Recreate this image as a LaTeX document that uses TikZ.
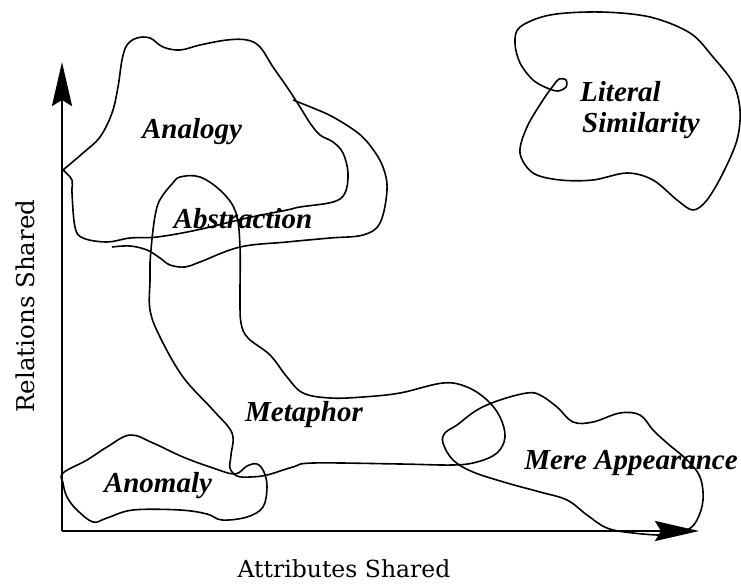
\documentclass[tikz,border=0pt]{standalone}
\usepackage{fontspec}
\setmainfont{Liberation Serif}
\newfontfamily\axfont{DejaVu Serif}
\usetikzlibrary{arrows.meta}
\tikzset{
  lab/.style={font=\bfseries\itshape\fontsize{29}{31}\selectfont, inner sep=0pt},
  axlab/.style={font=\axfont\fontsize{23.5}{26}\selectfont, inner sep=0pt},
  blob/.style={line width=1.6pt, line join=round},
  axis/.style={line width=2.8pt, -{Stealth[length=44pt,width=20pt,inset=6pt]}}
}
\begin{document}
\begin{tikzpicture}[x=1pt,y=-1pt]
\useasboundingbox (0,0) rectangle (741,585);
% axes
\coordinate (O) at (62,531);
\coordinate (ytip) at (62,62);
\coordinate (xtip) at (699,531);
\draw[axis] (O) -- (ytip);
\draw[axis] (O) -- (xtip);
\node[axlab, rotate=90, font=\axfont\fontsize{24.5}{26}\selectfont] (ylab) at (25,306) {Relations Shared};
\node[axlab] (xlab) at (344,569) {Attributes Shared};
% Analogy
\draw[blob] plot[smooth, tension=0.6] coordinates {
 (63,170) (83,153) (100,137) (112,113) (118,87) (122,60) (127,45) (137,38)
 (150,38) (163,47) (180,50) (200,45) (227,40) (247,40) (260,47) (273,67)
 (287,87) (300,107) (310,123) (320,135) (333,142) (343,153) (348,173)
 (345,193) (333,202) (300,207) (287,210) (247,218) (197,230) (157,237)
 (130,238) (107,242) (83,238) (75,227) (72,193) (72,180) (63,170)};
% Abstraction
\draw[blob] plot[smooth, tension=0.6] coordinates {
 (112,247) (130,246) (147,250) (160,258) (170,265) (185,267) (200,262)
 (240,247) (287,242) (330,238) (363,235) (380,223) (387,190) (383,167)
 (372,148) (358,133) (333,117) (313,108) (293,100)};
% Metaphor
\draw[blob] plot[smooth cycle, tension=0.6] coordinates {
 (180,177) (200,177) (222,192) (236,213) (240,247) (240,297) (241,323)
 (248,338) (270,355) (287,377) (303,393) (330,398) (363,397) (400,393)
 (443,383) (467,387) (487,400) (500,417) (505,437) (497,453) (477,462)
 (453,465) (400,464) (313,463) (293,467) (267,475) (250,477) (237,476)
 (230,468) (231,455) (232,433) (213,410) (183,377) (160,337) (150,310)
 (150,280) (150,263) (153,230) (157,207) (163,195) (172,184)};
% Anomaly
\draw[blob] plot[smooth cycle, tension=0.6] coordinates {
 (63,473) (87,460) (107,447) (130,435) (153,443) (183,457) (213,468)
 (235,474) (247,466) (257,464) (264,472) (267,487) (263,507) (247,517)
 (222,520) (207,514) (180,510) (133,510) (107,518) (93,522) (77,510)
 (67,497) (63,483)};
% Mere Appearance
\draw[blob] plot[smooth cycle, tension=0.6] coordinates {
 (445,433) (457,425) (477,410) (500,400) (527,393) (540,395) (557,407)
 (573,422) (593,422) (620,413) (640,415) (653,430) (667,443) (687,460)
 (700,477) (703,500) (697,520) (687,530) (667,535) (633,533) (607,528)
 (587,515) (567,500) (540,492) (507,483) (473,472) (453,460) (443,443)};
% Literal Similarity
\draw[blob] plot[smooth cycle, tension=0.55] coordinates {
 (520,27) (550,15) (600,12) (650,17) (690,33) (713,57) (733,83) (740,110)
 (737,140) (723,173) (707,200) (693,210) (677,200) (653,180) (627,173)
 (593,180) (560,180) (533,173) (520,153) (527,127) (543,100) (553,86)
 (559,79) (566,80) (566,87) (558,91) (547,88) (533,80) (520,63) (515,43)};
% labels
\node[lab] (analogy) at (192,132) {Analogy};
\node[lab] (abstraction) at (243,219) {Abstraction};
\node[lab] (metaphor) at (304,415) {Metaphor};
\node[lab] (anomaly) at (158,486) {Anomaly};
\node[lab] (mere) at (631,463) {Mere Appearance};
\node[lab, anchor=west] (literal) at (580,92) {Literal};
\node[lab, anchor=west] (similarity) at (582,126) {Similarity};
\end{tikzpicture}
\end{document}
